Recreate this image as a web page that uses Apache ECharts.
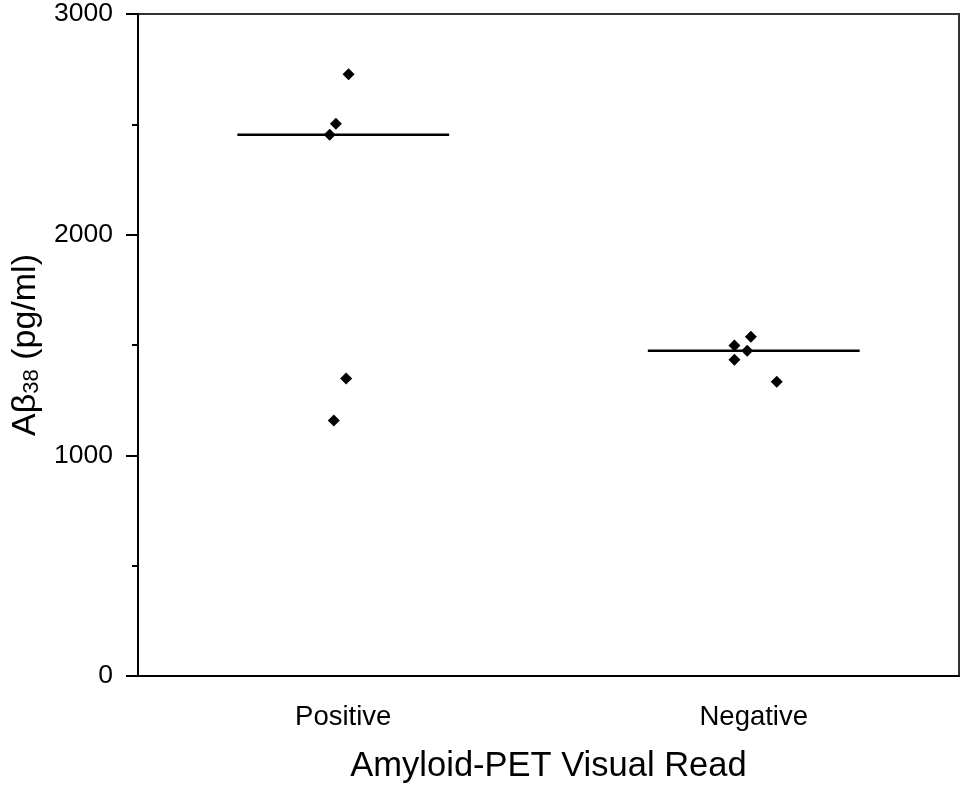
<!DOCTYPE html>
<html>
<head>
<meta charset="utf-8">
<script src="https://cdn.jsdelivr.net/npm/echarts@6/dist/echarts.min.js"></script>
<style>
html,body{margin:0;padding:0;background:#fff;}
#c{width:961px;height:787px;}
</style>
</head>
<body>
<div id="c"></div>
<script>
const categories = ['Positive', 'Negative'];
const positiveValues = [2727, 2503, 2453, 1348, 1158];
const positiveJitter = [0.013, -0.018, -0.033, 0.007, -0.023];
const negativeValues = [1537, 1498, 1474, 1433, 1333];
const negativeJitter = [-0.007, -0.047, -0.016, -0.047, 0.056];
const medians = [2453, 1474];
const yTickValues = [0, 1000, 2000, 3000];

const FONT = 'Liberation Sans, Arial, sans-serif';
const HALF = 0.258;

function pts(vals, jit, center) {
  return vals.map((v, i) => [center + jit[i], v]);
}
const centers = categories.map((c, i) => i + 0.5);

const chart = echarts.init(document.getElementById('c'), null, {renderer: 'canvas'});
chart.setOption({
  animation: false,
  backgroundColor: '#fff',
  grid: {
    left: 138, right: 2, top: 14, bottom: 111,
    containLabel: false, outerBoundsMode: 'none',
    show: true, borderColor: '#333', borderWidth: 2, backgroundColor: 'transparent'
  },
  xAxis: [
    {
      type: 'category', data: categories, boundaryGap: true,
      name: 'Amyloid-PET Visual Read', nameLocation: 'middle', nameGap: 73,
      nameTextStyle: {fontFamily: FONT, fontSize: 34.5, color: '#000'},
      axisLine: {lineStyle: {color: '#000', width: 2}},
      axisTick: {alignWithLabel: true, length: 12, lineStyle: {color: '#000', width: 2}},
      axisLabel: {fontFamily: FONT, fontSize: 27.5, color: '#000', margin: 27},
      splitLine: {show: false}
    },
    {
      type: 'value', min: 0, max: 2, show: false, position: 'bottom'
    }
  ],
  yAxis: {
    type: 'value', min: yTickValues[0], max: yTickValues[yTickValues.length - 1], interval: 1000,
    name: '{a|Aβ}{s|38}{a| (pg/ml)}', nameLocation: 'middle', nameGap: 85, nameRotate: 90,
    nameTextStyle: {
      fontFamily: FONT, fontSize: 34, color: '#000',
      rich: {
        a: {fontFamily: FONT, fontSize: 34, color: '#000'},
        s: {fontFamily: FONT, fontSize: 22, color: '#000', verticalAlign: 'bottom', padding: [14, 0, 0, 0]}
      }
    },
    axisLine: {show: true, lineStyle: {color: '#000', width: 2}},
    axisTick: {show: true, length: 12, lineStyle: {color: '#000', width: 2}},
    minorTick: {show: true, splitNumber: 2, length: 6, lineStyle: {color: '#000', width: 2}},
    axisLabel: {fontFamily: FONT, fontSize: 26.5, color: '#000', margin: 25, formatter: v => String(v)},
    splitLine: {show: false}
  },
  series: [
    {
      type: 'line', xAxisIndex: 1, symbol: 'none',
      data: [[centers[0] - HALF, medians[0]], [centers[0] + HALF, medians[0]]],
      lineStyle: {color: '#000', width: 2.5}, z: 2
    },
    {
      type: 'line', xAxisIndex: 1, symbol: 'none',
      data: [[centers[1] - HALF, medians[1]], [centers[1] + HALF, medians[1]]],
      lineStyle: {color: '#000', width: 2.5}, z: 2
    },
    {
      type: 'scatter', xAxisIndex: 1, symbol: 'diamond', symbolSize: 12,
      itemStyle: {color: '#000', opacity: 1},
      data: pts(positiveValues, positiveJitter, centers[0]), z: 3
    },
    {
      type: 'scatter', xAxisIndex: 1, symbol: 'diamond', symbolSize: 12,
      itemStyle: {color: '#000', opacity: 1},
      data: pts(negativeValues, negativeJitter, centers[1]), z: 3
    }
  ]
});
</script>
</body>
</html>
